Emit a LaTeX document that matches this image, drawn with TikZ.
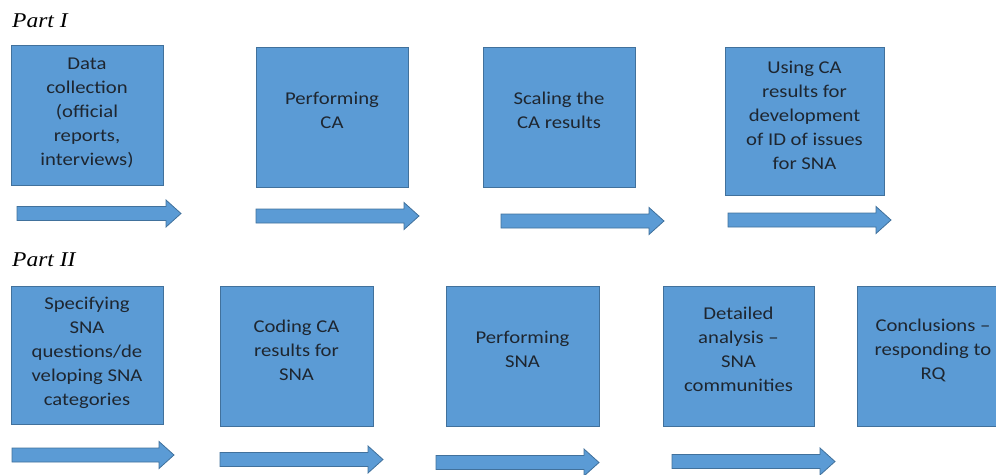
\documentclass[tikz,border=0pt]{standalone}
\usepackage{fontspec}
\setmainfont{Carlito}[FakeStretch=1.15]
\newfontfamily\partfont{Liberation Serif}[FakeStretch=1.12]
\usepackage{xcolor}
\definecolor{boxblue}{HTML}{5B9BD5}
\definecolor{boxedge}{HTML}{41719C}
\definecolor{inkgray}{HTML}{1E2630}
\usepackage{tikz}
\usetikzlibrary{positioning,calc}

\tikzset{
	stepbox/.style={draw=boxedge, fill=boxblue, line width=0.8pt, inner sep=0pt,
		minimum width=152pt, minimum height=140pt},
	steptext/.style={align=center, text=inkgray, inner sep=0pt,
		font=\fontsize{18pt}{24pt}\selectfont},
	arrowbody/.style={draw=boxedge, fill=boxblue, line width=0.8pt, line join=miter},
	partlabel/.style={anchor=base west, inner sep=0pt, font=\partfont\itshape\fontsize{21pt}{24pt}\selectfont}
}

% block arrow: name, start x, tip x, mid y
\newcommand\flowarrow[4]{%
	\draw[arrowbody] (#2,#4-7) -- (#3-15,#4-7) -- (#3-15,#4-13.5) -- (#3,#4)
	-- (#3-15,#4+13.5) -- (#3-15,#4+7) -- (#2,#4+7) -- cycle;
	\coordinate (#1) at (#3,#4);}

\begin{document}
\begin{tikzpicture}[x=1pt,y=-1pt]
	\useasboundingbox (0,0) rectangle (996,474);
	\clip (0,0) rectangle (996,474);
	
	% part headings
	\node[partlabel] (p1) at (12,27) {Part I};
	\node[partlabel] (p2) at (12,266) {Part II};
	
	% draw boxes, part I
	\node[stepbox] (b1) at (87,115) {};
	\node[stepbox] (b2) at (332,117) {};
	\node[stepbox] (b3) at (559,117) {};
	\node[stepbox, minimum width=159pt, minimum height=148pt] (b4) at (804.5,121) {};
	
	\node[steptext] (t1) at ([yshift=2pt]b1.center) {Data\\collection\\(official\\reports,\\interviews)};
	\node[steptext] (t2) at ([yshift=7pt]b2.center) {Performing\\CA};
	\node[steptext] (t3) at ([yshift=7pt]b3.center) {Scaling the\\CA results};
	\node[steptext] (t4) at ([yshift=6pt]b4.center) {Using CA\\results for\\development\\of ID of issues\\for SNA};
	
	% draw boxes, part II
	\node[stepbox, minimum height=138pt] (b5) at (87,355) {};
	\node[stepbox, minimum width=153pt] (b6) at (296.5,356) {};
	\node[stepbox, minimum width=153pt] (b7) at (522.5,356) {};
	\node[stepbox, minimum width=151pt] (b8) at (738.5,356) {};
	\node[stepbox] (b9) at (933,356) {};
	
	\node[steptext] (t5) at ([yshift=2pt]b5.center) {Specifying\\SNA\\questions/de\\veloping SNA\\categories};
	\node[steptext] (t6) at ([yshift=6pt]b6.center) {Coding CA\\results for\\SNA};
	\node[steptext] (t7) at ([yshift=7pt]b7.center) {Performing\\SNA};
	\node[steptext] (t8) at ([yshift=7pt]b8.center) {Detailed\\analysis --\\SNA\\communities};
	\node[steptext] (t9) at ([yshift=6pt]b9.center) {Conclusions --\\responding to\\RQ};
	
	%%% arrows
	\flowarrow{a1}{17}{181}{213.5}
	\flowarrow{a2}{256}{419}{216}
	\flowarrow{a3}{501}{664}{221}
	\flowarrow{a4}{728}{891}{220}
	\flowarrow{a5}{12}{174}{455}
	\flowarrow{a6}{220}{383}{459.5}
	\flowarrow{a7}{436}{599}{462.5}
	\flowarrow{a8}{672}{835}{461.5}
\end{tikzpicture}
\end{document}
